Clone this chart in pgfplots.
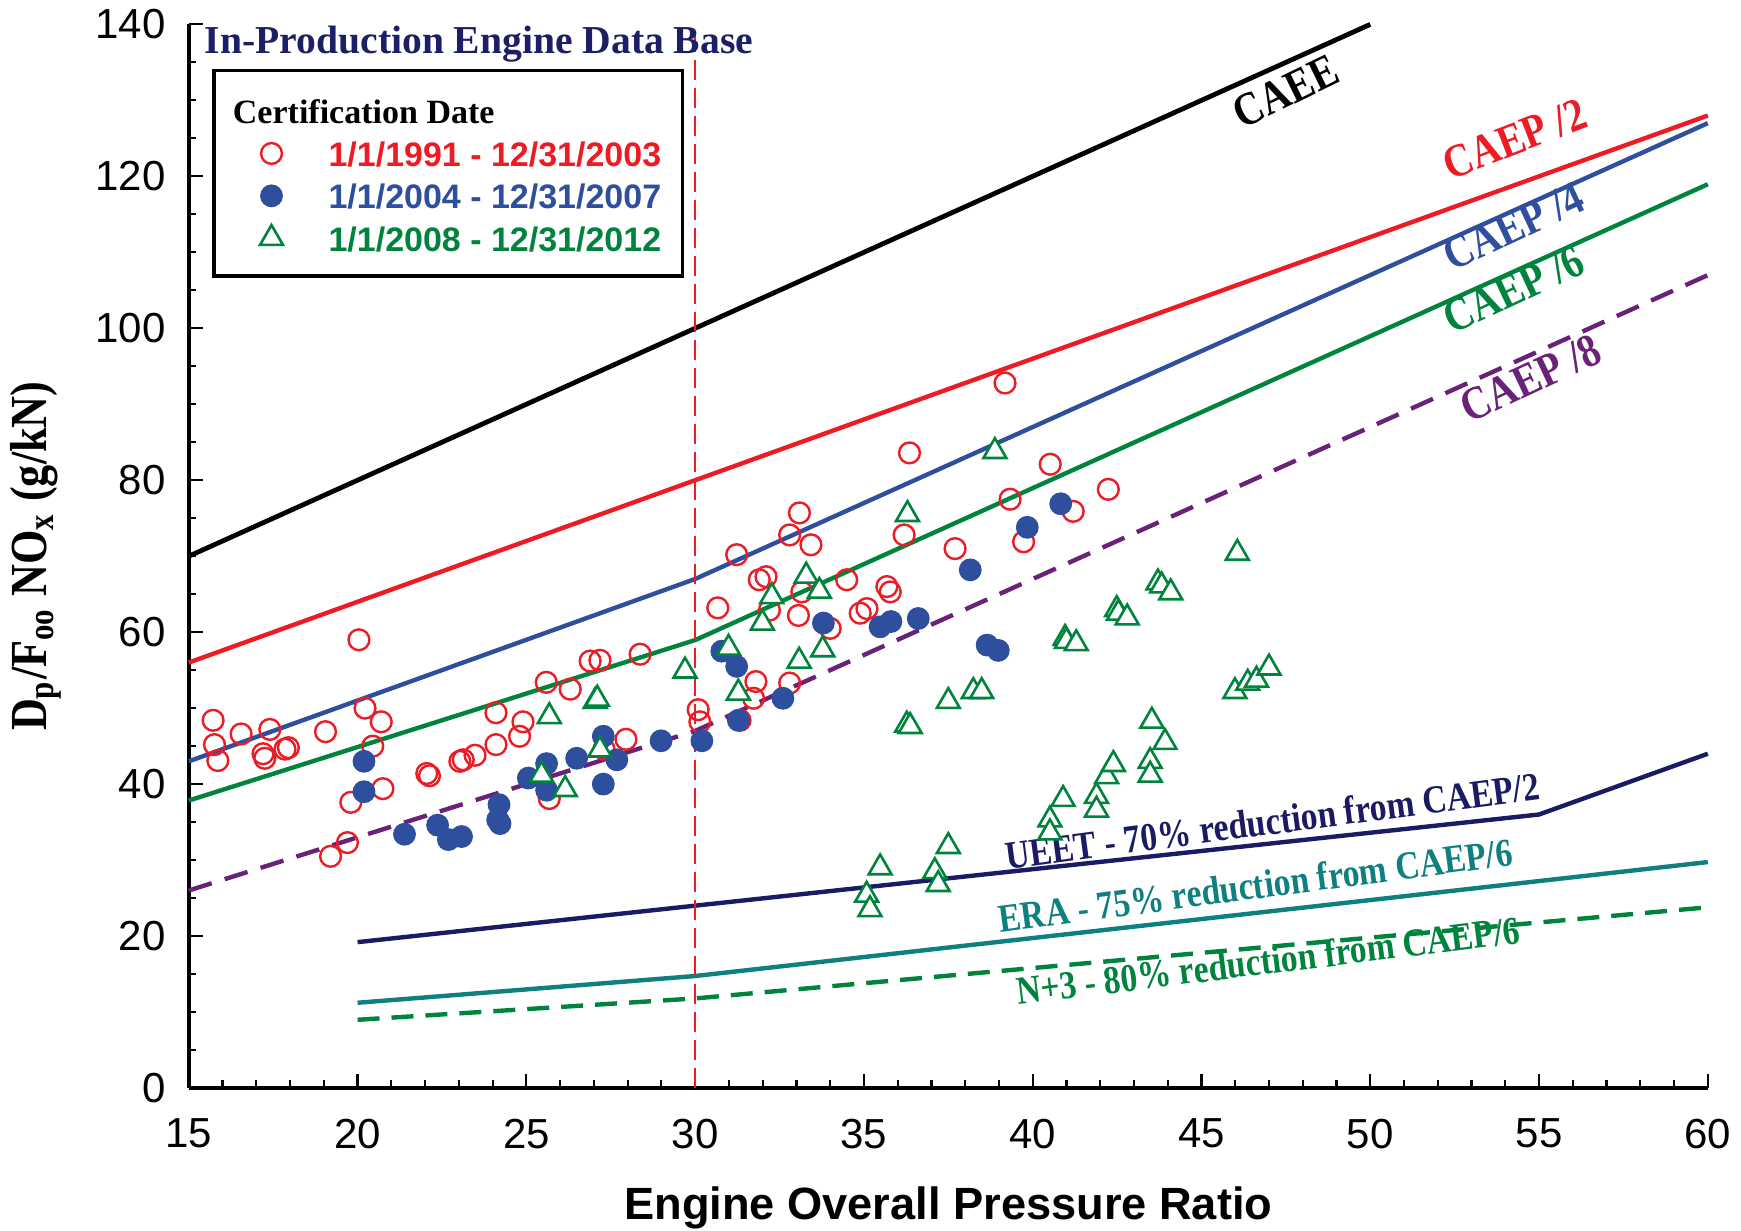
\documentclass[border=0pt]{standalone}
\usepackage{fontspec}
\setmainfont{Liberation Sans}
\newfontfamily\serifc[FakeStretch=0.85]{Liberation Serif}
\newfontfamily\serifn{Liberation Serif}
\usepackage{pgfplots}
\pgfplotsset{compat=1.18}
\usepackage{pgfplotstable}
\usetikzlibrary{calc}

\definecolor{cred}{HTML}{ED1C24}
\definecolor{cblue}{HTML}{2E4E9E}
\definecolor{cgreen}{HTML}{00843D}
\definecolor{cpurple}{HTML}{6A2178}
\definecolor{cnavy}{HTML}{1B1B63}
\definecolor{cteal}{HTML}{0E8080}
\definecolor{ctitle}{HTML}{1C1F66}

\pgfplotstableread{
x y
15.72 48.4
15.76 45.2
15.86 43.1
16.55 46.6
17.20 44.0
17.25 43.4
17.40 47.2
17.85 44.6
17.95 44.8
19.05 46.9
19.20 30.5
19.70 32.3
19.80 37.6
20.04 59.0
20.22 50.0
20.45 45.0
20.70 48.2
20.75 39.4
22.05 41.4
22.13 41.1
23.03 43.0
23.13 43.2
23.48 43.8
24.10 45.2
24.10 49.4
24.80 46.3
24.90 48.2
25.59 53.4
25.68 38.1
26.30 52.5
26.89 56.2
27.18 56.3
27.30 44.6
27.95 45.9
28.37 57.1
30.09 49.8
30.14 48.2
30.67 63.2
31.23 70.2
31.33 48.4
31.73 51.3
31.80 53.5
31.90 66.9
32.10 67.3
32.20 62.9
32.80 53.3
32.80 72.8
33.06 62.2
33.09 75.7
33.16 65.3
33.43 71.5
34.00 60.5
34.49 66.9
34.89 62.5
35.09 63.1
35.68 66.0
35.78 65.3
36.19 72.8
36.35 83.6
37.70 71.0
39.18 92.8
39.33 77.5
39.73 71.9
40.52 82.1
41.20 75.9
42.24 78.8
}\redpts

\pgfplotstableread{
x y
20.19 43.0
20.19 39.0
21.39 33.4
22.37 34.6
22.69 32.7
23.08 33.1
24.19 37.3
24.22 34.8
24.15 35.3
25.06 40.8
25.60 42.7
25.60 39.2
26.49 43.4
27.28 46.3
27.68 43.2
27.28 40.0
28.99 45.7
30.20 45.7
30.79 57.5
31.23 55.5
31.28 48.4
32.60 51.3
33.80 61.2
35.48 60.7
35.80 61.4
36.61 61.8
38.15 68.2
38.65 58.3
38.98 57.6
39.84 73.8
40.83 76.9
}\bluepts

\pgfplotstableread{
x y
25.45 41.2
25.68 48.9
26.15 39.3
27.04 50.9
27.10 51.2
27.18 44.5
29.70 54.9
30.99 57.9
31.28 52.0
31.99 61.2
32.27 64.7
33.08 56.2
33.29 67.4
33.68 65.4
33.78 57.7
35.08 25.4
35.18 23.5
35.48 29.0
36.27 47.8
36.37 47.6
36.29 75.5
37.10 28.5
37.20 26.8
37.50 31.8
37.50 50.9
38.24 52.2
38.49 52.2
38.88 83.8
40.51 35.3
40.51 33.6
40.90 38.0
40.96 59.2
41.00 58.8
41.29 58.5
41.89 38.4
41.89 36.6
42.19 41.0
42.39 42.6
42.49 63.0
42.54 62.5
42.80 61.9
43.48 43.0
43.48 41.2
43.53 48.3
43.71 66.5
43.82 66.1
43.92 45.5
44.09 65.2
45.99 52.2
46.06 70.4
46.37 53.3
46.63 53.7
47.00 55.3
}\greenpts

\begin{document}
\begin{tikzpicture}
\begin{axis}[
  name=ax,
  scale only axis, width=379.75pt, height=265.9pt,
  xmin=15, xmax=60, ymin=0, ymax=140,
  axis x line=bottom, axis y line=left,
  axis line style={-, line width=0.9pt, black},
  xtick={15,20,...,60}, ytick={0,20,...,140},
  minor x tick num=4, minor y tick num=3,
  tick align=inside, major tick length=3.6pt, minor tick length=1.9pt,
  every tick/.style={black, line width=0.55pt},
  /pgf/number format/assume math mode=true,
  tick label style={font=\fontsize{10.5}{12}\selectfont, inner sep=0pt},
  xticklabel style={yshift=-7.5pt},
  yticklabel style={xshift=-5.6pt},
  xlabel={Engine Overall Pressure Ratio},
  ylabel={D\textsubscript{p}/F\textsubscript{oo} NO\textsubscript{x} (g/kN)},
  every axis x label/.style={at={(axis description cs:0.5,-0.113)}, anchor=center, font=\bfseries\fontsize{11.3}{13}\selectfont},
  every axis y label/.style={at={(axis description cs:-0.1008,0.5)}, rotate=90, anchor=center, font=\serifc\bfseries\fontsize{13}{15}\selectfont},
  clip=false,
  legend cell align=left,
  legend style={at={(rel axis cs:0.01535,0.9582)}, anchor=north west,
    draw=black, line width=0.9pt, fill=white,
    inner xsep=5.3pt, inner ysep=5.8pt, row sep=2.6pt, column sep=11.4pt,
    font=\fontsize{8.5}{10}\selectfont\bfseries,
    nodes={inner sep=0pt, text height=7.5pt, text depth=0.5pt}},
  legend image code/.code={\draw[mark repeat=2, mark phase=2] plot coordinates {(0pt,-0.3pt) (9.1pt,-0.3pt) (18.2pt,-0.3pt)};},
]
\addlegendimage{empty legend}
\addlegendentry{\hspace*{-23.9pt}{\serifn\bfseries Certification Date}}

% regulatory lines
\addplot[forget plot, black, line width=1.2pt] coordinates {(15,70) (50,140)};
\addplot[forget plot, cred, line width=1.1pt] coordinates {(15,56) (60,128)};
\addplot[forget plot, cblue, line width=1.1pt] coordinates {(15,43) (30,67) (60,127)};
\addplot[forget plot, cgreen, line width=1.1pt] coordinates {(15,37.84) (30,58.96) (60,118.96)};
\addplot[forget plot, cpurple, line width=1.1pt, dash pattern=on 6pt off 3.4pt] coordinates {(15,26) (30,47) (60,107)};
\addplot[forget plot, cnavy, line width=1.1pt] coordinates {(20,19.2) (30,24) (55,36) (60,44)};
\addplot[forget plot, cteal, line width=1.1pt] coordinates {(20,11.22) (30,14.74) (60,29.74)};
\addplot[forget plot, cgreen, line width=1.1pt, dash pattern=on 5.5pt off 3pt] coordinates {(20,8.98) (30,11.79) (60,23.79)};
\addplot[forget plot, cred, line width=0.4pt, dash pattern=on 5pt off 2pt] coordinates {(30,0) (30,140)};

% data
\addplot[only marks, mark=o, mark size=2.6pt, mark options={draw=cred, line width=0.6pt}] table {\redpts};
\addlegendentry{\textcolor{cred}{1/1/1991 - 12/31/2003}}
\addplot[only marks, mark=*, mark size=2.7pt, mark options={draw=cblue, fill=cblue, line width=0.3pt}] table {\bluepts};
\addlegendentry{\textcolor{cblue}{1/1/2004 - 12/31/2007}}
\addplot[only marks, mark=triangle*, mark size=3.3pt, mark options={draw=cgreen, fill=white, line width=0.65pt}] table {\greenpts};
\addlegendentry{\textcolor{cgreen}{1/1/2008 - 12/31/2012}}

% labels
\node[font=\serifn\bfseries\fontsize{9.9}{11}\selectfont, text=ctitle] at (axis cs:23.6,137.4) {In-Production Engine Data Base};
\node[rotate=26, font=\serifc\bfseries\fontsize{11.7}{13}\selectfont, text=black] at (axis cs:47.5,131.2) {CAEE};
\node[rotate=21, font=\serifc\bfseries\fontsize{11.7}{13}\selectfont, text=cred] at (axis cs:54.28,124.9) {CAEP /2};
\node[rotate=25, font=\serifc\bfseries\fontsize{11.7}{13}\selectfont, text=cblue] at (axis cs:54.24,113.4) {CAEP /4};
\node[rotate=25, font=\serifc\bfseries\fontsize{11.7}{13}\selectfont, text=cgreen] at (axis cs:54.24,105.1) {CAEP /6};
\node[rotate=25, font=\serifc\bfseries\fontsize{11.7}{13}\selectfont, text=cpurple] at (axis cs:54.74,93.4) {CAEP /8};
\node[rotate=7.5, font=\serifc\bfseries\fontsize{9.9}{11}\selectfont, text=cnavy] at (axis cs:47.1,35.2) {UEET - 70\% reduction from CAEP/2};
\node[rotate=7.5, font=\serifc\bfseries\fontsize{9.9}{11}\selectfont, text=cteal] at (axis cs:46.6,26.7) {ERA - 75\% reduction from CAEP/6};
\node[rotate=7, font=\serifc\bfseries\fontsize{9.9}{11}\selectfont, text=cgreen] at (axis cs:46.97,16.8) {N+3 - 80\% reduction from CAEP/6};
\end{axis}
\pgfresetboundingbox
\path[use as bounding box] ($(ax.south west)+(-47.2pt,-35.7pt)$) rectangle ($(ax.north east)+(8.3pt,6.1pt)$);
\end{tikzpicture}
\end{document}
